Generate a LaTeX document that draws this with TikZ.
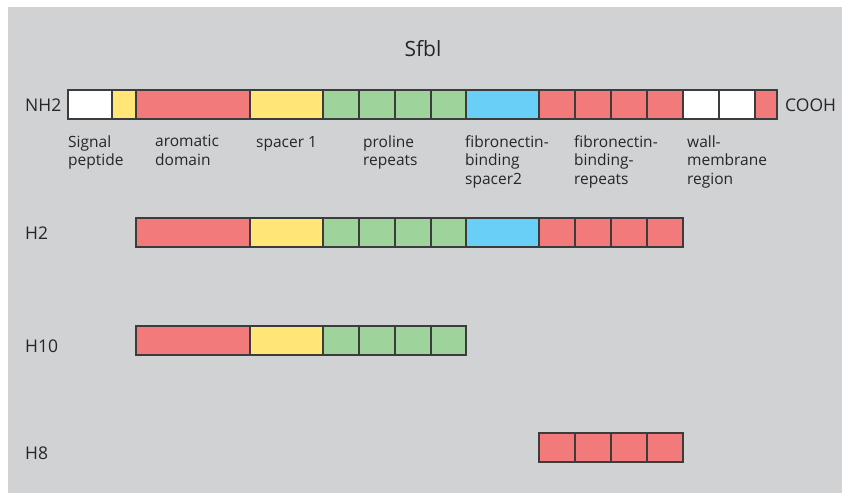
\documentclass[tikz,border=0pt]{standalone}
\usepackage{fontspec}
\setmainfont{Open Sans}
\usepackage{tikz}

\definecolor{tlo}{HTML}{D1D2D4}
\definecolor{ramka}{HTML}{3C3C3C}
\definecolor{aromat}{HTML}{F27A7B}
\definecolor{spacer}{HTML}{FFE677}
\definecolor{prolina}{HTML}{9ED49C}
\definecolor{fibro}{HTML}{6ACFF6}

\begin{document}
\begin{tikzpicture}[x=1bp,y=-1bp,
    seg/.style={draw=ramka,line width=1.3bp},
    opis/.style={anchor=north west,align=left,inner sep=0pt,text=black!85,
      font=\fontsize{15.5bp}{18.7bp}\selectfont},
    wiersz/.style={anchor=base west,inner sep=0pt,text=black!85,
      font=\fontsize{17.5bp}{20bp}\selectfont}]

    \useasboundingbox (0,0) rectangle (842,493);
    \fill[tlo] (8,7) rectangle (842,493);

    \node[inner sep=0pt,anchor=base,text=black!85,
      font=\fontsize{21bp}{24bp}\selectfont] (tytul) at (423,57) {Sfbl};

    % full protein
    \begin{scope}[yshift=-90bp]

      \filldraw[seg,fill=white] (68,0) rectangle (112,29);
      \filldraw[seg,fill=spacer] (112,0) rectangle (136,29);
      \filldraw[seg,fill=aromat] (136,0) rectangle (250,29);
      \filldraw[seg,fill=spacer] (250,0) rectangle (323,29);
      \filldraw[seg,fill=prolina] (323,0) rectangle (359,29);
      \filldraw[seg,fill=prolina] (359,0) rectangle (395,29);
      \filldraw[seg,fill=prolina] (395,0) rectangle (431,29);
      \filldraw[seg,fill=prolina] (431,0) rectangle (466,29);
      \filldraw[seg,fill=fibro] (466,0) rectangle (539,29);
      \filldraw[seg,fill=aromat] (539,0) rectangle (575,29);
      \filldraw[seg,fill=aromat] (575,0) rectangle (611,29);
      \filldraw[seg,fill=aromat] (611,0) rectangle (647,29);
      \filldraw[seg,fill=aromat] (647,0) rectangle (683,29);
      \filldraw[seg,fill=white] (683,0) rectangle (719,29);
      \filldraw[seg,fill=white] (719,0) rectangle (755,29);
      \filldraw[seg,fill=aromat] (755,0) rectangle (777,29);

      \node[wiersz] (nh) at (25,22) {NH2};
      \node[wiersz] (cooh) at (785,22) {COOH};

    \end{scope}

    \node[opis] (sygnal) at (68,135.2) {Signal\\peptide};
    \node[opis] (arom) at (155,135.2) {aromatic\\domain};
    \node[opis] (sp1) at (256,136) {spacer 1};
    \node[opis] (pro) at (363,135.2) {proline\\repeats};
    \node[opis] (sp2) at (465,135.2) {fibronectin-\\binding\\spacer2};
    \node[opis] (rep) at (574,135.2) {fibronectin-\\binding-\\repeats};
    \node[opis] (sciana) at (687,135.2) {wall-\\membrane\\region};

    % fragment H2
    \begin{scope}[yshift=-218bp]

      \filldraw[seg,fill=aromat] (136,0) rectangle (250,29);
      \filldraw[seg,fill=spacer] (250,0) rectangle (323,29);
      \filldraw[seg,fill=prolina] (323,0) rectangle (359,29);
      \filldraw[seg,fill=prolina] (359,0) rectangle (395,29);
      \filldraw[seg,fill=prolina] (395,0) rectangle (431,29);
      \filldraw[seg,fill=prolina] (431,0) rectangle (466,29);
      \filldraw[seg,fill=fibro] (466,0) rectangle (539,29);
      \filldraw[seg,fill=aromat] (539,0) rectangle (575,29);
      \filldraw[seg,fill=aromat] (575,0) rectangle (611,29);
      \filldraw[seg,fill=aromat] (611,0) rectangle (647,29);
      \filldraw[seg,fill=aromat] (647,0) rectangle (683,29);

      \node[wiersz] (h2) at (25,21) {H2};

    \end{scope}

    % fragment H10
    \begin{scope}[yshift=-326bp]

      \filldraw[seg,fill=aromat] (136,0) rectangle (250,29);
      \filldraw[seg,fill=spacer] (250,0) rectangle (323,29);
      \filldraw[seg,fill=prolina] (323,0) rectangle (359,29);
      \filldraw[seg,fill=prolina] (359,0) rectangle (395,29);
      \filldraw[seg,fill=prolina] (395,0) rectangle (431,29);
      \filldraw[seg,fill=prolina] (431,0) rectangle (466,29);

      \node[wiersz] (h10) at (25,26) {H10};

    \end{scope}

    % fragment H8
    \begin{scope}[yshift=-433bp]

      \filldraw[seg,fill=aromat] (539,0) rectangle (575,29);
      \filldraw[seg,fill=aromat] (575,0) rectangle (611,29);
      \filldraw[seg,fill=aromat] (611,0) rectangle (647,29);
      \filldraw[seg,fill=aromat] (647,0) rectangle (683,29);

      \node[wiersz] (h8) at (25,26) {H8};

    \end{scope}

\end{tikzpicture}
\end{document}
